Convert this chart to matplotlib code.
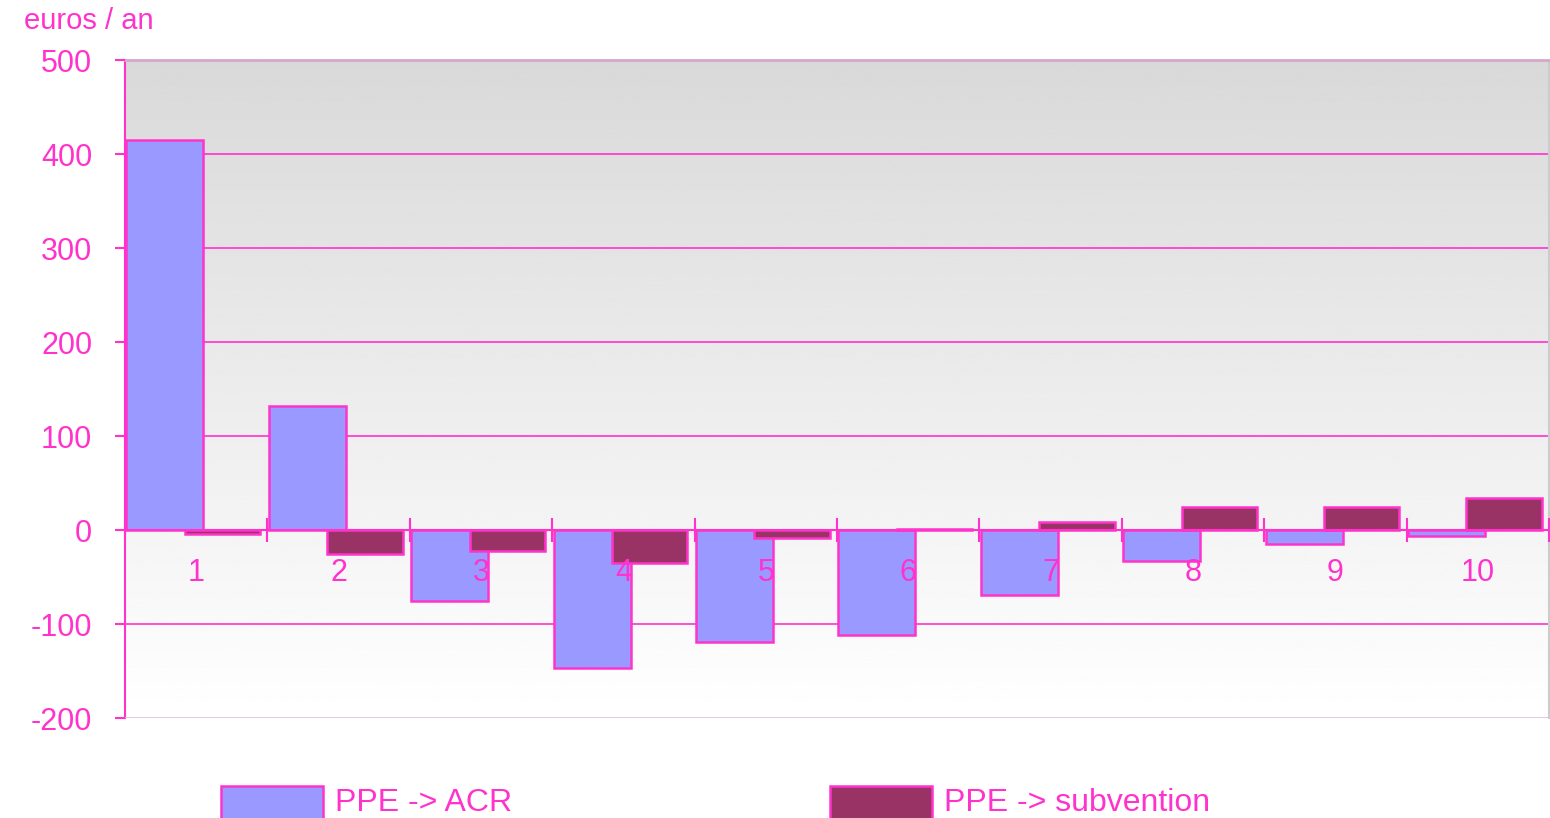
import numpy as np
import matplotlib.pyplot as plt
from matplotlib.patches import Rectangle

# Data
categories = ["1", "2", "3", "4", "5", "6", "7", "8", "9", "10"]
ppe_acr = [415, 132, -76, -147, -119, -112, -69, -33, -15, -6]
ppe_subvention = [-4, -26, -22, -35, -9, 1, 9, 25, 25, 34]
yticks = [-200, -100, 0, 100, 200, 300, 400, 500]

pink = "#ff33cc"
blue = "#9999ff"
plum = "#993366"

plt.rcParams["font.family"] = ["Liberation Sans", "DejaVu Sans"]
plt.rcParams["axes.unicode_minus"] = False

fig = plt.figure(figsize=(15.5, 8.18), dpi=100)
ax = fig.add_axes([125 / 1550, 100 / 818, 1424 / 1550, 658 / 818])

x = np.arange(len(categories))

# gradient background (grey at top to white at bottom)
grad = np.linspace(0.85, 1.0, 256).reshape(-1, 1)
ax.imshow(grad, cmap="gray", vmin=0, vmax=1, aspect="auto",
          extent=[0, 1, 0, 1], transform=ax.transAxes, zorder=0)

# grid lines
for t in yticks[1:]:
    ax.axhline(t, color=pink, lw=1.2, zorder=0.8)

ax.bar(x + 0.28, ppe_acr, width=0.54, color=blue, edgecolor=pink,
       linewidth=1.8, zorder=2, label="PPE -> ACR")
ax.bar(x + 0.685, ppe_subvention, width=0.53, color=plum, edgecolor=pink,
       linewidth=1.8, zorder=2.1, label="PPE -> subvention")

ax.set_xlim(0, len(categories))
ax.set_ylim(-200, 500)
ax.set_axisbelow(False)

# x axis at zero, with boundary ticks and category labels
ax.spines["bottom"].set_position(("data", 0))
ax.spines["bottom"].set_color(pink)
ax.spines["bottom"].set_linewidth(1.5)
ax.set_xticks(np.arange(0, len(categories) + 1))
ax.set_xticklabels([])
ax.set_xticks(x + 0.5, minor=True)
ax.set_xticklabels(categories, minor=True)
ax.tick_params(axis="x", which="major", direction="inout", length=17,
               width=1.5, color=pink)
ax.tick_params(axis="x", which="minor", length=0, pad=20,
               labelsize=22, labelcolor=pink)

ax.set_yticks(yticks)
ax.tick_params(axis="y", direction="out", length=7.5, width=1.5, color=pink,
               pad=16, labelsize=22, labelcolor=pink)
ax.spines["left"].set_color(pink)
ax.spines["left"].set_linewidth(1.5)
ax.spines["top"].set_color("#d6a6cc")
ax.spines["top"].set_linewidth(2)
ax.spines["right"].set_color("#cccccc")
ax.spines["right"].set_linewidth(1.5)
ax.axhline(-200, color="#dcc4dc", lw=2, zorder=3)

fig.text(24 / 1550, 1 - 21 / 818, "euros / an", color=pink, fontsize=21,
         ha="left", va="center")

# legend at bottom (partly cut off like the reference)
legend_items = [("PPE -> ACR", blue, 221), ("PPE -> subvention", plum, 830)]
for lab, col, px in legend_items:
    fig.patches.append(Rectangle((px / 1550, -20 / 818), 102 / 1550, 52 / 818,
                                 transform=fig.transFigure, facecolor=col,
                                 edgecolor=pink, linewidth=1.8))
    fig.text((px + 114) / 1550, 1 - 803 / 818, lab, color=pink, fontsize=23,
             ha="left", va="center")

fig.savefig("out.png", dpi=100)
